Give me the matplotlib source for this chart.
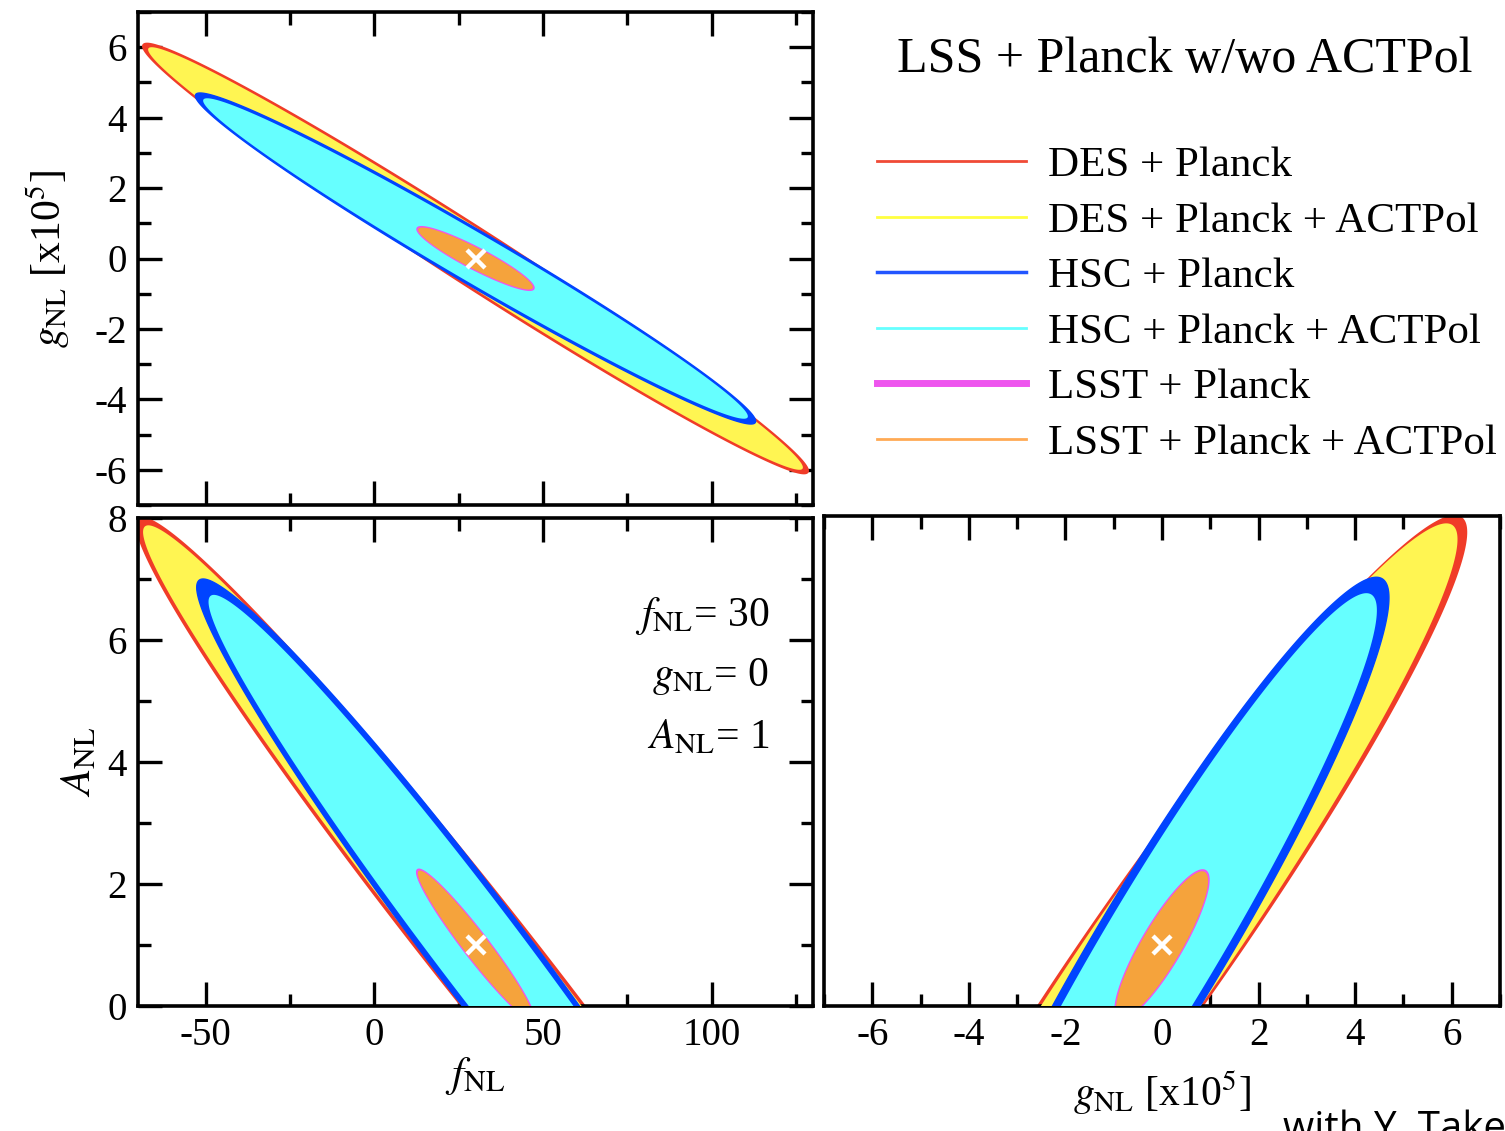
import numpy as np
import matplotlib
matplotlib.use("Agg")
import matplotlib.pyplot as plt
from matplotlib.lines import Line2D
from matplotlib.ticker import MultipleLocator

plt.rcParams['font.family'] = ['Liberation Serif', 'DejaVu Serif']
plt.rcParams['mathtext.fontset'] = 'stix'
plt.rcParams['axes.unicode_minus'] = False

# ---------------- data ----------------
fiducial_f = 30.0
fiducial_g = 0.0
fiducial_A = 1.0

contour_names = ["DES + Planck", "DES + Planck + ACTPol",
                 "HSC + Planck", "HSC + Planck + ACTPol",
                 "LSST + Planck", "LSST + Planck + ACTPol"]

# contour half-extents (x, y) and correlation, per panel
# panel (fNL, gNL[x1e5])
fg_half_x = [98.5, 97.0, 83.0, 80.7, 17.3, 17.0]
fg_half_y = [6.1, 6.0, 4.7, 4.55, 0.90, 0.88]
fg_rho    = [-0.988, -0.989, -0.983, -0.985, -0.925, -0.927]
# panel (fNL, ANL)
fA_half_x = [100.4, 98.5, 82.6, 79.1, 17.4, 17.1]
fA_half_y = [7.0, 6.88, 6.0, 5.74, 1.24, 1.22]
fA_rho    = [-0.983, -0.984, -0.977, -0.980, -0.963, -0.964]
# panel (gNL[x1e5], ANL)
gA_half_x = [6.3, 6.12, 4.7, 4.45, 0.97, 0.954]
gA_half_y = [7.0, 6.88, 6.0, 5.74, 1.22, 1.20]
gA_rho    = [0.962, 0.962, 0.944, 0.951, 0.868, 0.870]

fill_colors = ["#f03c28", "#fff552", "#0044ff", "#66ffff", "#ee55ee", "#f5a33c"]
edge_colors = ["#f03c28", "none", "#0044ff", "none", "#ee55ee", "none"]
edge_widths = [1.5, 0, 1.0, 0, 1.2, 0]

legend_colors = ["#f04a36", "#ffff40", "#2255ff", "#66ffff", "#ee55ee", "#ffaa55"]
legend_widths = [2.0, 2.0, 2.5, 2.0, 5.0, 2.0]

title_text = "LSS + Planck w/wo ACTPol"
fid_lines = [r"$f_{\rm NL}$= 30", r"$g_{\rm NL}$= 0", r"$A_{\rm NL}$= 1"]

# ---------------- figure ----------------
W, H = 1505, 1131
fig = plt.figure(figsize=(W / 100, H / 100), dpi=100)

def frac(l, t, r, b):
    return [l / W, 1 - b / H, (r - l) / W, (b - t) / H]

ax_fg = fig.add_axes(frac(138, 12, 813, 505))
ax_fA = fig.add_axes(frac(138, 518, 813, 1006))
ax_gA = fig.add_axes(frac(824, 516, 1500, 1006))

t = np.linspace(0, 2 * np.pi, 600)

def draw(ax, cx, cy, hx, hy, rho):
    for i in range(len(hx)):
        x = cx + hx[i] * np.cos(t)
        y = cy + hy[i] * (rho[i] * np.cos(t) + np.sqrt(1 - rho[i] ** 2) * np.sin(t))
        ax.fill(x, y, facecolor=fill_colors[i], edgecolor=edge_colors[i],
                linewidth=edge_widths[i], zorder=2 + i)
    ax.plot([cx], [cy], marker='x', color='white', markersize=13,
            markeredgewidth=3.2, zorder=20)

draw(ax_fg, fiducial_f, fiducial_g, fg_half_x, fg_half_y, fg_rho)
draw(ax_fA, fiducial_f, fiducial_A, fA_half_x, fA_half_y, fA_rho)
draw(ax_gA, fiducial_g, fiducial_A, gA_half_x, gA_half_y, gA_rho)

ax_fg.set_xlim(-70, 130); ax_fg.set_ylim(-7, 7)
ax_fA.set_xlim(-70, 130); ax_fA.set_ylim(0, 8)
ax_gA.set_xlim(-7, 7); ax_gA.set_ylim(0, 8)

for ax in (ax_fg, ax_fA, ax_gA):
    for s in ax.spines.values():
        s.set_linewidth(2.6)
    ax.tick_params(which='both', direction='in', width=2.4, top=True, right=True,
                   labelsize=28, pad=8)
    ax.tick_params(which='major', length=17)
    ax.tick_params(which='minor', length=9)

for ax in (ax_fg, ax_fA):
    ax.xaxis.set_major_locator(MultipleLocator(50))
    ax.xaxis.set_minor_locator(MultipleLocator(25))
    ax.yaxis.set_major_locator(MultipleLocator(2))
    ax.yaxis.set_minor_locator(MultipleLocator(1))

ax_fg.tick_params(axis='x', labelbottom=False)

ax_gA.xaxis.set_major_locator(MultipleLocator(2))
ax_gA.xaxis.set_minor_locator(MultipleLocator(1))
ax_gA.tick_params(axis='y', which='both', left=False, right=False, labelleft=False)

ax_fg.set_ylabel(r"$g_{\rm NL}$ [x10$^5$]", fontsize=30)
ax_fg.yaxis.set_label_coords(-0.098, 0.5)
ax_fA.set_ylabel(r"$A_{\rm NL}$", fontsize=31)
ax_fA.yaxis.set_label_coords(-0.058, 0.5)
ax_fA.set_xlabel(r"$f_{\rm NL}$", fontsize=31)
ax_fA.xaxis.set_label_coords(0.5, -0.1)
ax_gA.set_xlabel(r"$g_{\rm NL}$ [x10$^5$]", fontsize=30)
ax_gA.xaxis.set_label_coords(0.5, -0.128)

for k, s in enumerate(fid_lines):
    ax_fA.text(0.935, 0.80 - k * 0.125, s, transform=ax_fA.transAxes,
               ha='right', va='center', fontsize=30)

fig.text(1185 / W, 1 - 60 / H, title_text, ha='center', va='center', fontsize=36)

handles = [Line2D([], [], color=c, lw=w) for c, w in zip(legend_colors, legend_widths)]
fig.legend(handles, contour_names, loc='upper left',
           bbox_to_anchor=(877 / W, 1 - 146 / H), frameon=False, fontsize=31,
           handlelength=3.45, handletextpad=0.52, labelspacing=0.38,
           borderpad=0, borderaxespad=0)

fig.text(1283 / W, 1 - 1110 / H, "with Y. Takeuchi", ha='left', va='top',
         fontsize=29, family=['Open Sans', 'DejaVu Sans'])

fig.savefig("out.png", dpi=100)
